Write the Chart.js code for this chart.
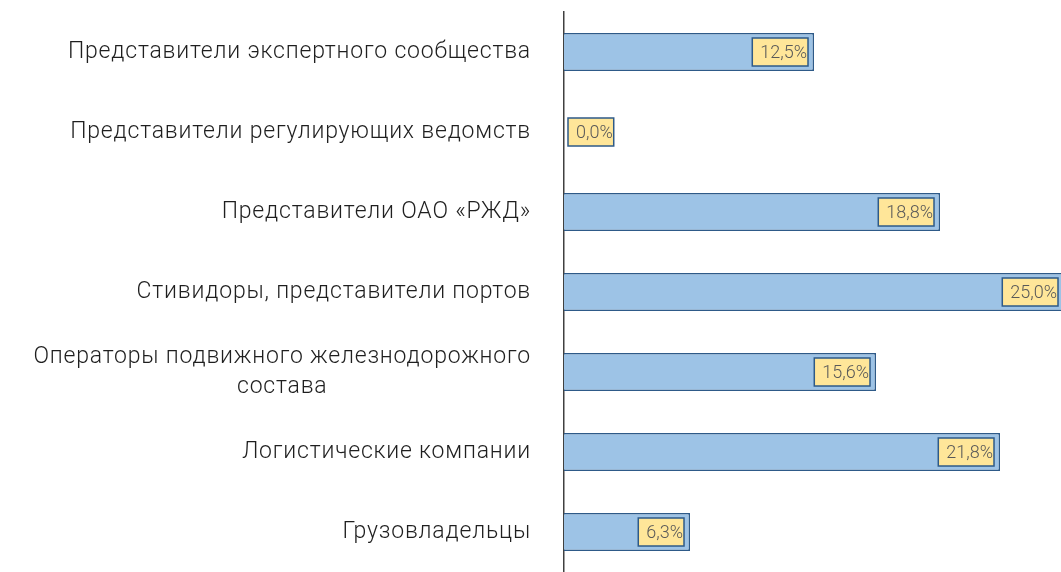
<!DOCTYPE html>
<html>
<head>
<meta charset="utf-8">
<script src="https://cdn.jsdelivr.net/npm/chart.js@4"></script>
<style>
  html, body { margin: 0; padding: 0; background: #fff; }
  #wrap { width: 1061px; height: 572px; position: relative; }
</style>
</head>
<body>
<div id="wrap"><canvas id="chart"></canvas></div>
<script>
const categories = [
    ['Представители экспертного сообщества'],
    ['Представители регулирующих ведомств'],
    ['Представители ОАО «РЖД»'],
    ['Стивидоры, представители портов'],
    ['Операторы подвижного железнодорожного', 'состава'],
    ['Логистические компании'],
    ['Грузовладельцы']
];
const shares = [12.5, 0.0, 18.8, 25.0, 15.6, 21.8, 6.3];

// подписи категорий слева от оси
const catLabels = {
    id: 'catLabels',
    afterDraw(chart) {
        const ctx = chart.ctx;
        const y = chart.scales.y;
        const right = chart.chartArea.left - 33;
        ctx.save();
        ctx.font = '300 23px Roboto';
        ctx.letterSpacing = '0.8px';
        ctx.fillStyle = '#1f1f1f';
        ctx.textBaseline = 'middle';
        categories.forEach((lines, i) => {
            const cy = y.getPixelForValue(i);
            const lh = 30;
            const w = Math.max(...lines.map(l => ctx.measureText(l).width));
            const cx = right - w / 2;
            ctx.textAlign = 'center';
            lines.forEach((l, j) => {
                ctx.fillText(l, cx, cy + (j - (lines.length - 1) / 2) * lh);
            });
        });
        ctx.restore();
    }
};

// жёлтые плашки со значениями
const valueBoxes = {
    id: 'valueBoxes',
    afterDatasetsDraw(chart) {
        const ctx = chart.ctx;
        const meta = chart.getDatasetMeta(0);
        const base = chart.chartArea.left;
        ctx.save();
        ctx.font = '300 18px Roboto';
        ctx.textBaseline = 'middle';
        ctx.textAlign = 'left';
        meta.data.forEach((bar, i) => {
            const txt = shares[i].toFixed(1).replace('.', ',') + '%';
            const tw = ctx.measureText(txt).width;
            const bw = tw + 9;
            const bh = 28;
            let rightX = Math.min(bar.x, 1064) - 6;
            if (rightX - bw < base + 4) rightX = base + 4 + bw;
            const bx = rightX - bw;
            const by = bar.y - bh / 2;
            ctx.fillStyle = '#FFE699';
            ctx.fillRect(bx, by, bw, bh);
            ctx.lineWidth = 1.5;
            ctx.strokeStyle = '#2E5A88';
            ctx.strokeRect(bx, by, bw, bh);
            ctx.fillStyle = '#595959';
            ctx.fillText(txt, bx + 8, bar.y + 1);
        });
        ctx.restore();
    }
};

new Chart(document.getElementById('chart'), {
    type: 'bar',
    data: {
        labels: categories,
        datasets: [
            {
                data: shares,
                backgroundColor: '#9DC3E6',
                borderColor: '#2E5A88',
                borderWidth: 1.5,
                borderSkipped: 'start',
                barPercentage: 0.475,
                categoryPercentage: 1,
            },
        ],
    },
    options: {
        indexAxis: 'y',
        responsive: true,
        maintainAspectRatio: false,
        animation: false,
        layout: { padding: { top: 12, right: 0, bottom: 0, left: 0 } },
        plugins: {
            legend: { display: false },
            tooltip: { enabled: false },
        },
        scales: {
            x: {
                display: false,
                min: 0,
                max: 24.85,
            },
            y: {
                afterFit(scale) { scale.width = 564; },
                ticks: { display: false },
                grid: { display: false },
                border: { display: true, color: '#404040', width: 1.5 },
            },
        },
    },
    plugins: [catLabels, valueBoxes],
});
</script>
</body>
</html>
